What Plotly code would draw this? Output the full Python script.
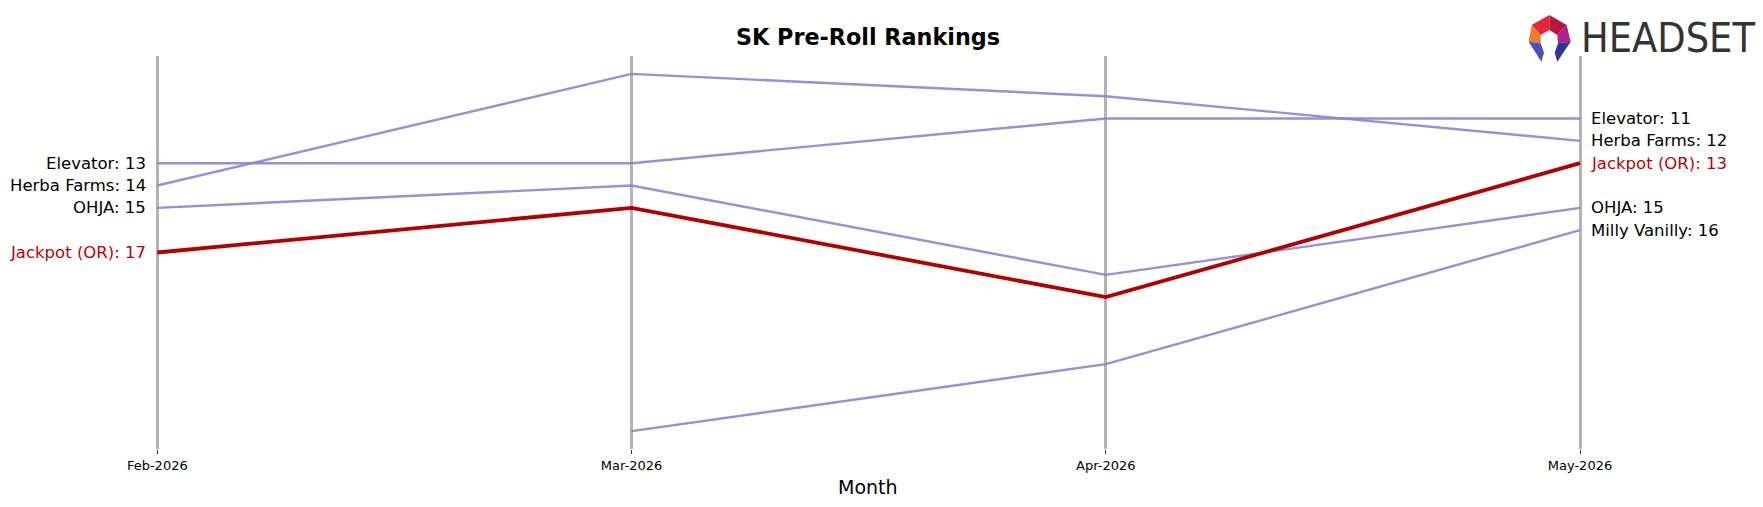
import plotly.graph_objects as go

# ---- data ----
months = ["Feb-2026", "Mar-2026", "Apr-2026", "May-2026"]
brands = ["Elevator", "Herba Farms", "OHJA", "Milly Vanilly", "Jackpot (OR)"]
elevator = [13, 13, 11, 11]
herba_farms = [14, 9, 10, 12]
ohja = [15, 14, 18, 15]
milly_vanilly = [None, 25, 22, 16]
jackpot = [17, 15, 19, 13]
series = [elevator, herba_farms, ohja, milly_vanilly, jackpot]
highlight = "Jackpot (OR)"

W, H = 1763, 507
PURPLE = "rgba(140,125,215,0.88)"
RED_LINE = "#b30000"
RED_TEXT = "#c00000"
FONT = "DejaVu Sans"

x = list(range(len(months)))
fig = go.Figure()
for name, vals in zip(brands, series):
    hl = name == highlight
    fig.add_trace(go.Scatter(
        x=x, y=vals, mode="lines", name=name,
        line=dict(color=RED_LINE if hl else PURPLE, width=3.8 if hl else 2.4),
        connectgaps=False, hoverinfo="skip",
    ))

annotations = []
for name, vals in zip(brands, series):
    hl = name == highlight
    col = RED_TEXT if hl else "black"
    if vals[0] is not None:
        annotations.append(dict(x=x[0], y=vals[0], xref="x", yref="y",
                                text=f"{name}: {vals[0]}", showarrow=False,
                                xanchor="right", yanchor="middle", xshift=-9,
                                font=dict(family=FONT, size=16.5, color=col)))
    if vals[-1] is not None:
        annotations.append(dict(x=x[-1], y=vals[-1], xref="x", yref="y",
                                text=f"{name}: {vals[-1]}", showarrow=False,
                                xanchor="left", yanchor="middle", xshift=9,
                                font=dict(family=FONT, size=16.5, color=col)))

# title & axis label
annotations.append(dict(x=868 / W, y=1 - 37 / H, xref="paper", yref="paper",
                        text="<b>SK Pre-Roll Rankings</b>", showarrow=False,
                        xanchor="center", yanchor="middle",
                        font=dict(family=FONT, size=22.3, color="black")))
annotations.append(dict(x=868 / W, y=1 - 487 / H, xref="paper", yref="paper",
                        text="Month", showarrow=False,
                        xanchor="center", yanchor="middle",
                        font=dict(family=FONT, size=19, color="black")))
# logo text
annotations.append(dict(x=1579 / W, y=1 - 38 / H, xref="paper", yref="paper",
                        text="HEADSET", showarrow=False,
                        xanchor="left", yanchor="middle",
                        font=dict(family="Liberation Sans Narrow, DejaVu Sans Condensed, sans-serif",
                                  size=41, color="#333333")))

# logo shapes (zoomed-crop coords -> pixels -> paper)
def P(pts):
    out = []
    for zx, zy in pts:
        px = 1520 + zx / 3
        py = 10 + zy / 3
        out.append((px / W, 1 - py / H))
    return "M " + " L ".join(f"{a:.5f},{b:.5f}" for a, b in out) + " Z"

logo = [
    ([(35, 45), (88, 15), (88, 60), (62, 75)], "#e0283a"),
    ([(88, 15), (140, 45), (112, 75), (88, 60)], "#b8173f"),
    ([(35, 45), (62, 75), (62, 100), (26, 95)], "#f07a30"),
    ([(140, 45), (152, 95), (114, 100), (112, 75)], "#b0208f"),
    ([(26, 95), (62, 100), (72, 128), (64, 155)], "#4650c0"),
    ([(152, 95), (114, 100), (104, 128), (112, 155)], "#2f3790"),
]
shapes = [dict(type="path", path=P(pts), xref="paper", yref="paper",
               fillcolor=c, line=dict(width=0), layer="above") for pts, c in logo]

px_per = (1580 - 157.3) / 3
fig.update_layout(
    width=W, height=H,
    margin=dict(l=0, r=0, t=0, b=0),
    paper_bgcolor="white", plot_bgcolor="white",
    showlegend=False,
    annotations=annotations,
    shapes=shapes,
    xaxis=dict(range=[-157.3 / px_per, 3 + (W - 1580) / px_per],
               tickvals=x, ticktext=months, ticks="outside", ticklen=4,
               tickcolor="#333", tickwidth=1,
               showgrid=True, gridcolor="#b3b3b3", gridwidth=3,
               zeroline=False, showline=False,
               tickfont=dict(family=FONT, size=13, color="black")),
    yaxis=dict(range=[25.8, 8.2], domain=[1 - 449 / H, 1 - 56 / H],
               showgrid=False, zeroline=False, showticklabels=False,
               showline=False, ticks=""),
)
fig.write_html("out.html")
